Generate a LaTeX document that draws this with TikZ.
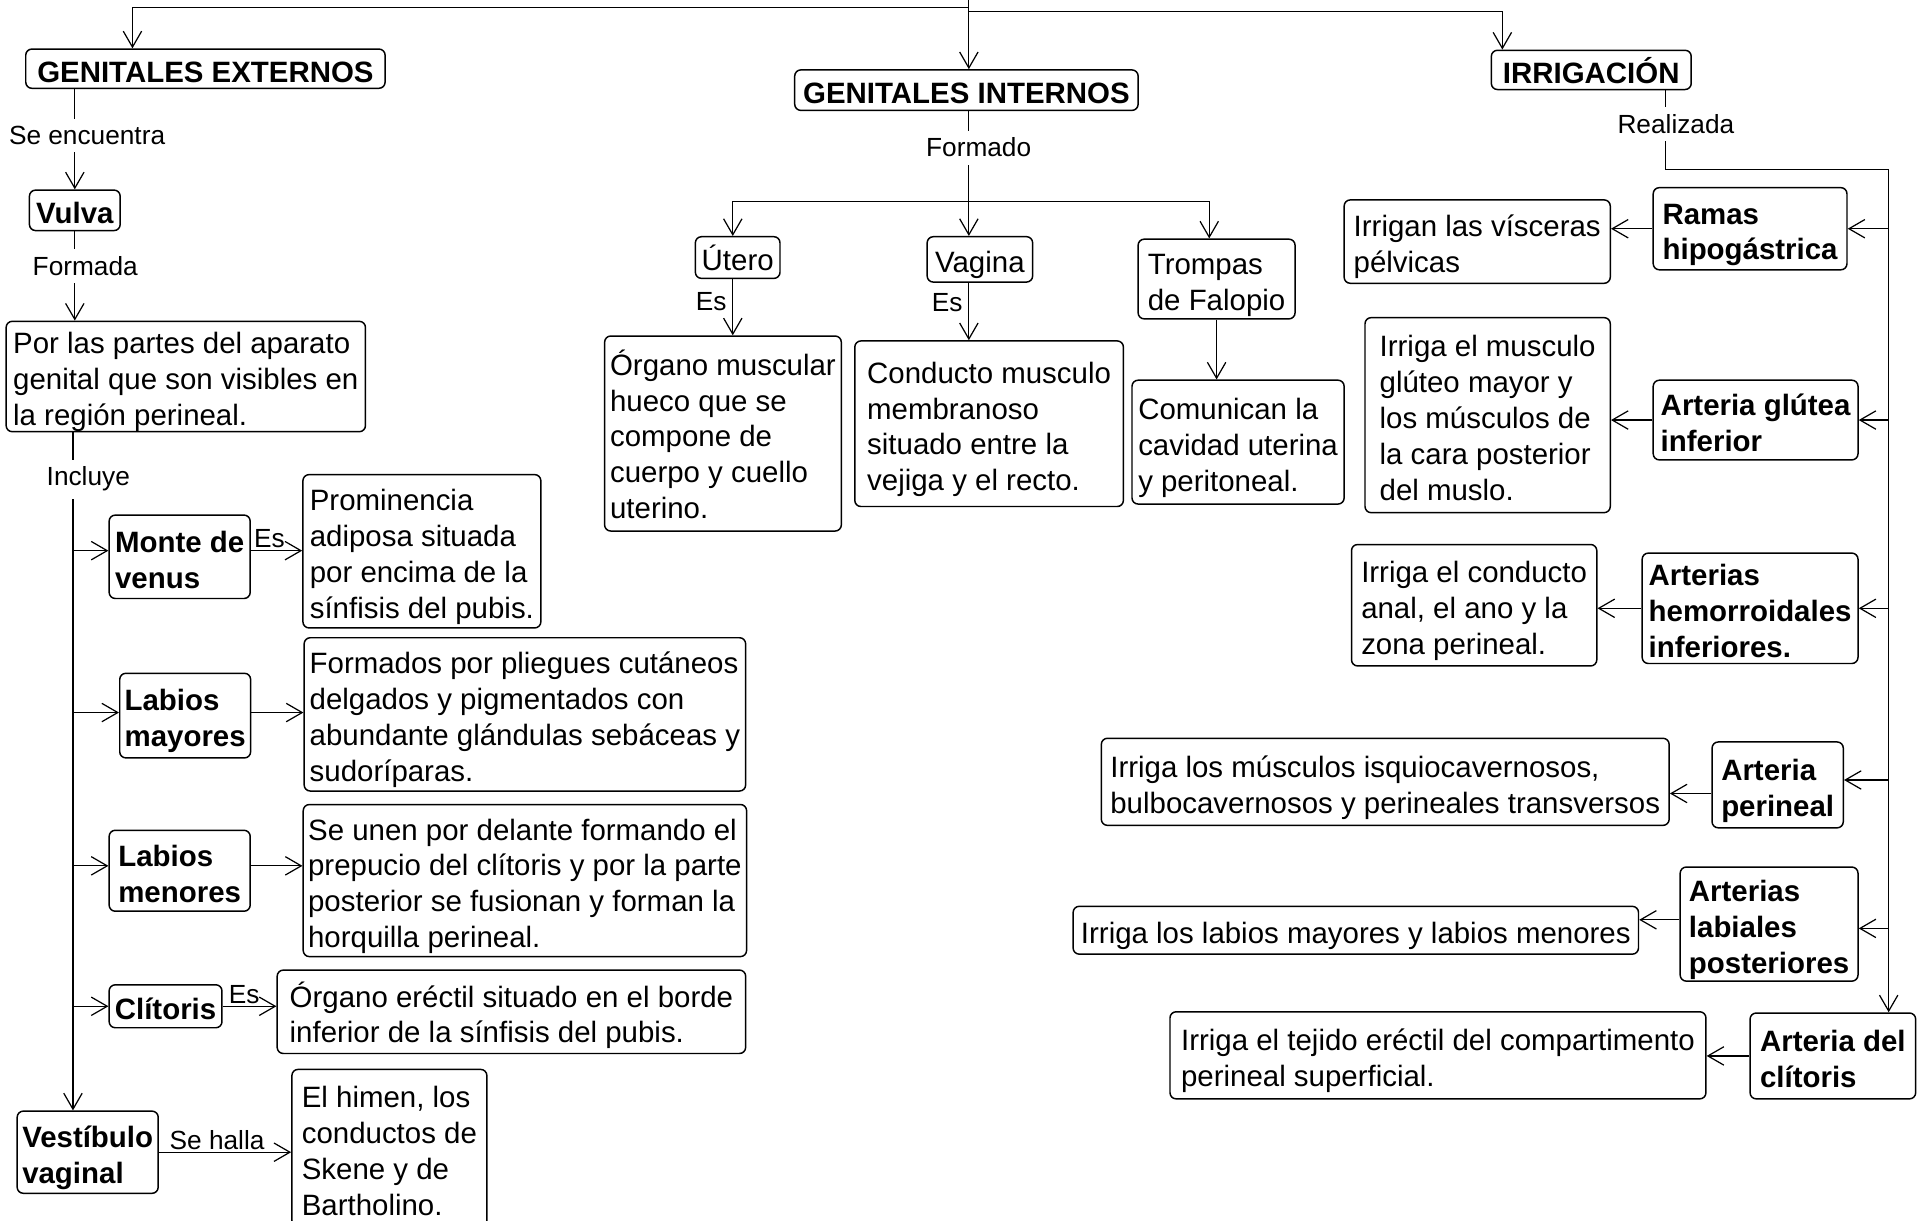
\documentclass[tikz,border=0pt]{standalone}
\usepackage{fontspec}
\setmainfont{Liberation Sans}
\usetikzlibrary{arrows.meta}
\newcommand\bxnode[7][]{%
  \node[bx,#1,minimum width={(#5-#3)*0.5pt},minimum height={(#6-#4)*0.5pt}] (#2) at ({(#3+#5)/2},{(#4+#6)/2}) {\rule{0pt}{13.3pt}#7\rule[-2.4pt]{0pt}{2.4pt}};}
\tikzset{
  bx/.style={draw, line width=0.6pt, rounded corners=2.5pt, inner xsep=2pt, inner ysep=0pt, align=left, font=\fontsize{12}{14.6}\selectfont},
  bb/.style={font=\fontsize{12}{14.6}\selectfont\bfseries},
  lab/.style={font=\fontsize{10.7}{12}\selectfont, fill=white, inner xsep=1pt, inner ysep=3pt},
  labo/.style={font=\fontsize{10.7}{12}\selectfont, inner sep=0.8pt},
  arr/.style={line width=0.5pt, -{Straight Barb[length=6.5pt,width=7.5pt]}},
  ln/.style={line width=0.5pt}
}
\begin{document}
\begin{tikzpicture}[x=0.5pt,y=-0.5pt]
\useasboundingbox (0,0) rectangle (1568,995);
% boxes
\bxnode[bb]{ge}{21}{40}{314}{72}{GENITALES EXTERNOS}
\bxnode[bb]{gi}{648}{57}{928}{90}{GENITALES INTERNOS}
\bxnode[bb]{irr}{1216}{41}{1379}{73}{IRRIGACIÓN}
\bxnode[bb]{vulva}{24}{155}{98}{188}{Vulva}
\bxnode{pp}{5}{262}{298}{352}{Por las partes del aparato\\genital que son visibles en\\la región perineal.}
\bxnode[bb]{monte}{89}{420}{204}{488}{Monte de\\venus}
\bxnode{prom}{247}{387}{441}{512}{Prominencia\\adiposa situada\\por encima de la\\sínfisis del pubis.}
\bxnode[bb]{lmay}{98}{549}{204}{618}{Labios\\mayores}
\bxnode{form}{248}{520}{608}{645}{Formados por pliegues cutáneos\\delgados y pigmentados con\\abundante glándulas sebáceas y\\sudoríparas.}
\bxnode[bb]{lmen}{89}{677}{204}{743}{Labios\\menores}
\bxnode{unen}{248}{656}{608}{780}{Se unen por delante formando el\\prepucio del clítoris y por la parte\\posterior se fusionan y forman la\\horquilla perineal.}
\bxnode[bb]{clit}{89}{803}{181}{838}{Clítoris}
\bxnode{oer}{226}{791}{608}{859}{Órgano eréctil situado en el borde\\inferior de la sínfisis del pubis.}
\bxnode[bb]{vest}{14}{906}{129}{973}{Vestíbulo\\vaginal}
\bxnode{himen}{238}{872}{397}{1000}{El himen, los\\conductos de\\Skene y de\\Bartholino.}
\bxnode{utero}{567}{193}{636}{227}{Útero}
\bxnode{vagina}{756}{193}{842}{230}{Vagina}
\bxnode{trompas}{928}{195}{1056}{260}{Trompas\\de Falopio}
\bxnode{omus}{493}{274}{686}{433}{Órgano muscular\\hueco que se\\compone de\\cuerpo y cuello\\uterino.}
\bxnode{cond}{697}{278}{916}{413}{Conducto musculo\\membranoso\\situado entre la\\vejiga y el recto.}
\bxnode{comu}{923}{310}{1096}{411}{Comunican la\\cavidad uterina\\y peritoneal.}
\bxnode[bb]{ramas}{1348}{153}{1506}{220}{Ramas\\hipogástrica}
\bxnode{irrigan}{1096}{163}{1313}{231}{Irrigan las vísceras\\pélvicas}
\bxnode[bb]{glut}{1348}{310}{1515}{375}{Arteria glútea\\inferior}
\bxnode{musc}{1113}{259}{1313}{418}{Irriga el musculo\\glúteo mayor y\\los músculos de\\la cara posterior\\del muslo.}
\bxnode[bb]{hemo}{1339}{451}{1515}{541}{Arterias\\hemorroidales\\inferiores.}
\bxnode{anal}{1102}{444}{1302}{543}{Irriga el conducto\\anal, el ano y la\\zona perineal.}
\bxnode[bb]{peri}{1396}{605}{1503}{675}{Arteria\\perineal}
\bxnode{isq}{898}{602}{1361}{673}{Irriga los músculos isquiocavernosos,\\bulbocavernosos y perineales transversos}
\bxnode[bb]{labp}{1370}{707}{1515}{800}{Arterias\\labiales\\posteriores}
\bxnode{labi}{875}{739}{1336}{778}{Irriga los labios mayores y labios menores}
\bxnode[bb]{aclit}{1427}{826}{1562}{896}{Arteria del\\clítoris}
\bxnode{tej}{954}{825}{1391}{896}{Irriga el tejido eréctil del compartimento\\perineal superficial.}
% top connectors
\coordinate (root) at (790,0);
\coordinate (jl) at (790,6);
\coordinate (jr) at (790,9.5);
\draw[arr] (root) -- (root |- gi.north);
\draw[arr] (jl) -| ([xshift=-29.75pt]ge.north);
\draw[arr] (jr) -| ([xshift=-36.25pt]irr.north);
% left column
\draw[arr] (ge.south -| vulva.north) -- node[lab,xshift=5pt,pos=0.46]{Se encuentra} (vulva.north);
\draw[arr] (vulva.south) -- node[lab,xshift=4.25pt,pos=0.39]{Formada} (vulva.south |- pp.north);
\coordinate (tk) at (59.5,0);
\draw[arr] (pp.south -| tk) -- node[lab,xshift=6.25pt,pos=0.069]{Incluye} (vest.north -| tk);
\coordinate (mw) at ([yshift=2.5pt]monte.west);
\coordinate (me) at ([yshift=2.5pt]monte.east);
\coordinate (yw) at ([yshift=1.25pt]lmay.west);
\coordinate (ye) at ([yshift=1.25pt]lmay.east);
\coordinate (nw) at ([yshift=2pt]lmen.west);
\coordinate (ne) at ([yshift=2pt]lmen.east);
\draw[arr] (mw -| tk) -- (mw);
\draw[arr] (yw -| tk) -- (yw);
\draw[arr] (nw -| tk) -- (nw);
\draw[arr] (clit.west -| tk) -- (clit.west);
\draw[arr] (me) -- node[labo,above,pos=0.36]{Es} (me -| prom.west);
\draw[arr] (ye) -- (ye -| form.west);
\draw[arr] (ne) -- (ne -| unen.west);
\draw[arr] (clit.east) -- node[labo,above,pos=0.4]{Es} (clit.east -| oer.west);
\draw[arr] (vest.east) -- node[labo,above,pos=0.44]{Se halla} (vest.east -| himen.west);
% middle column
\coordinate (mj) at (790,164);
\draw[ln] (gi.south -| mj) -- node[lab,xshift=4pt,pos=0.405]{Formado} (mj);
\draw[arr] (mj) -| ([xshift=-2pt]utero.north);
\draw[arr] (mj) -| ([xshift=-3pt]trompas.north);
\draw[arr] (mj) -- (mj |- vagina.north);
\coordinate (ux) at ([xshift=-2pt]utero.south);
\draw[arr] (ux) -- node[labo,left=1.5pt,pos=0.4]{Es} (ux |- omus.north);
\draw[arr] (vagina.south -| mj) -- node[labo,left=1.5pt,pos=0.35]{Es} (cond.north -| mj);
\draw[arr] (trompas.south) -- (trompas.south |- comu.north);
% right column
\coordinate (rt) at (1540,138);
\coordinate (ro) at ([xshift=30.25pt]irr.south);
\draw[arr] (ro) -- node[lab,xshift=4.25pt,pos=0.43]{Realizada} (ro |- rt) -- (rt) -- (rt |- aclit.north);
\coordinate (pe) at ([yshift=2pt]peri.east);
\coordinate (le) at ([yshift=-1.75pt]labp.east);
\coordinate (lw) at ([yshift=1.75pt]labp.west);
\coordinate (pw) at ([yshift=-3.5pt]peri.west);
\draw[arr] (ramas.east -| rt) -- (ramas.east);
\draw[arr] (glut.east -| rt) -- (glut.east);
\draw[arr] (hemo.east -| rt) -- (hemo.east);
\draw[arr] (pe -| rt) -- (pe);
\draw[arr] (le -| rt) -- (le);
\draw[arr] (ramas.west) -- (ramas.west -| irrigan.east);
\draw[arr] (glut.west) -- (glut.west -| musc.east);
\draw[arr] (hemo.west) -- (hemo.west -| anal.east);
\draw[arr] (pw) -- (pw -| isq.east);
\draw[arr] (lw) -- (lw -| labi.east);
\draw[arr] (aclit.west) -- (aclit.west -| tej.east);
\end{tikzpicture}
\end{document}
